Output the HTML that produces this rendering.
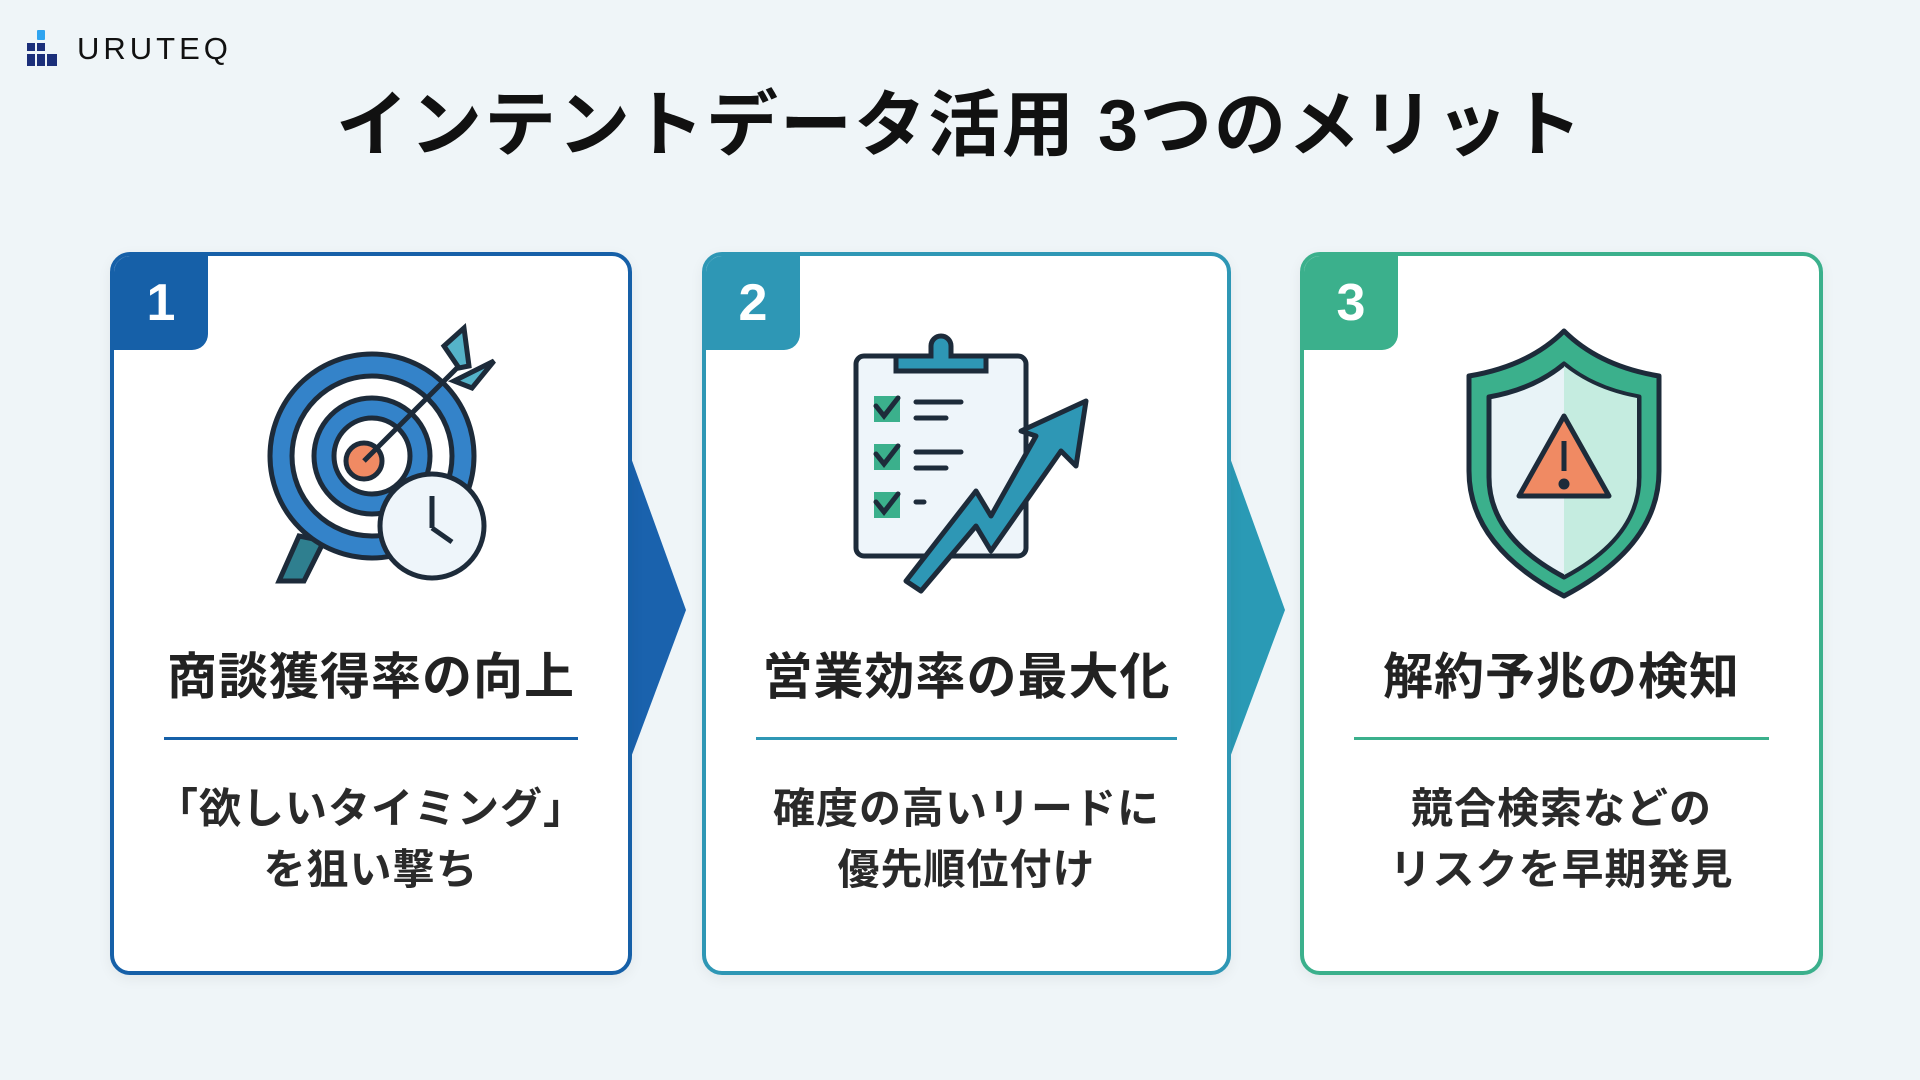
<!DOCTYPE html>
<html><head><meta charset="utf-8"><style>
body{margin:0;width:1920px;height:1080px;background:#eff5f8;position:relative;overflow:hidden;font-family:"Liberation Sans","Noto Sans CJK JP",sans-serif;}
.abs{position:absolute}
.card{position:absolute;top:252px;height:723px;background:#fff;border:4px solid;border-radius:20px;box-sizing:border-box;box-shadow:0 4px 14px rgba(0,0,0,.06);overflow:hidden}
.badge{position:absolute;left:0;top:0;width:94px;height:94px;border-bottom-right-radius:16px;color:#fff;font-size:52px;font-weight:bold;text-align:center;line-height:94px}
.h{position:absolute;left:0;right:0;top:381px;text-align:center;font-size:50px;font-weight:bold;color:#222;letter-spacing:1px}
.line{position:absolute;left:50px;right:50px;top:481px;height:3px}
.b{position:absolute;left:0;right:0;top:522px;text-align:center;font-size:42px;font-weight:bold;color:#2a2a2a;line-height:61px;letter-spacing:1px}
svg.ic{position:absolute;left:0;top:0}
</style></head><body>
<div class="abs" style="left:37px;top:30px;width:8px;height:10px;background:#2fa4f0;border-radius:1px"></div>
<div class="abs" style="left:27px;top:43px;width:8px;height:8px;background:#1b2f7a"></div>
<div class="abs" style="left:37px;top:43px;width:8px;height:8px;background:#1b2f7a"></div>
<div class="abs" style="left:27px;top:54px;width:8px;height:12px;background:#1b2f7a"></div>
<div class="abs" style="left:37px;top:54px;width:8px;height:12px;background:#1b2f7a"></div>
<div class="abs" style="left:47px;top:54px;width:10px;height:12px;background:#1b2f7a"></div>
<div class="abs" style="left:77px;top:31px;font-size:31px;letter-spacing:4px;color:#111">URUTEQ</div>
<div class="abs" style="left:0;right:0;top:66px;text-align:center;font-size:72px;font-weight:bold;color:#111;letter-spacing:2px">インテントデータ活用 3つのメリット</div>

<svg class="abs" style="left:630px;top:455px" width="60" height="310"><polygon points="0,0 56,155 0,305" fill="#1a62ad"/></svg>
<svg class="abs" style="left:1229px;top:455px" width="60" height="310"><polygon points="0,0 56,155 0,305" fill="#2a9ab5"/></svg>

<div class="card" style="left:110px;width:522px;border-color:#1660a8">
<div class="badge" style="background:#1660a8">1</div>
<svg class="ic" width="522" height="380">
<g stroke="#1d2b3a" stroke-width="5">
<polygon points="185,280 165,325 190,325 210,285" fill="#2f7f8f"/>
<circle cx="258" cy="200" r="102" fill="#3483c9"/>
<circle cx="258" cy="200" r="80" fill="#fff"/>
<circle cx="258" cy="200" r="58" fill="#3483c9"/>
<circle cx="258" cy="200" r="38" fill="#fff"/>
<circle cx="250" cy="205" r="18" fill="#f08a63"/>
<line x1="250" y1="205" x2="345" y2="110"/>
<polygon points="330,90 350,72 355,110 345,112" fill="#55b3c9"/>
<polygon points="340,125 370,110 380,105 358,132" fill="#55b3c9"/>
<circle cx="318" cy="270" r="52" fill="#eef5fa"/>
<line x1="318" y1="240" x2="318" y2="272"/><line x1="318" y1="272" x2="338" y2="286"/>
</g></svg>
<div class="h">商談獲得率の向上</div>
<div class="line" style="background:#1660a8"></div>
<div class="b">「欲しいタイミング」<br>を狙い撃ち</div>
</div>

<div class="card" style="left:702px;width:529px;border-color:#2e97b5">
<div class="badge" style="background:#2e97b5">2</div>
<svg class="ic" width="529" height="380">
<g stroke="#1d2b3a" stroke-width="5" stroke-linecap="round">
<rect x="150" y="100" width="170" height="200" rx="8" fill="#eef5fa"/>
<path d="M190,115 v-15 h35 v-10 a10,10 0 0 1 20,0 v10 h35 v15 z" fill="#2e97b5"/>
<rect x="168" y="140" width="26" height="26" fill="#3bb08c" stroke="none"/>
<rect x="168" y="188" width="26" height="26" fill="#3bb08c" stroke="none"/>
<rect x="168" y="236" width="26" height="26" fill="#3bb08c" stroke="none"/>
<path d="M170,150 l8,10 l14,-18 M170,198 l8,10 l14,-18 M170,246 l8,10 l14,-18" fill="none"/>
<path d="M210,146 h45 M210,162 h30 M210,196 h45 M210,212 h30 M210,246 h8"/>
<polygon points="200,325 270,235 285,260 330,180 315,175 380,145 370,210 355,195 285,295 270,270 215,335" fill="#2e97b5" stroke-linejoin="round"/>
</g></svg>
<div class="h">営業効率の最大化</div>
<div class="line" style="background:#2e97b5"></div>
<div class="b">確度の高いリードに<br>優先順位付け</div>
</div>

<div class="card" style="left:1300px;width:523px;border-color:#3bb08c">
<div class="badge" style="background:#3bb08c">3</div>
<svg class="ic" width="523" height="380">
<g stroke="#1d2b3a" stroke-width="5" stroke-linejoin="round">
<path d="M260,75 q35,35 95,45 v95 q0,75 -95,125 q-95,-50 -95,-125 v-95 q60,-10 95,-45z" fill="#3bb08c"/>
<path d="M260,108 q30,25 75,33 v80 q0,60 -75,100 q-75,-40 -75,-100 v-80 q45,-8 75,-33z" fill="#e8f3f7"/>
<path d="M260,110 q30,24 73,32 v80 q0,58 -73,97z" fill="#c5ece0" stroke="none"/>
<polygon points="260,160 305,240 215,240" fill="#f08a63"/>
<line x1="260" y1="185" x2="260" y2="215"/><circle cx="260" cy="228" r="3" fill="#1d2b3a"/>
</g></svg>
<div class="h">解約予兆の検知</div>
<div class="line" style="background:#3bb08c"></div>
<div class="b">競合検索などの<br>リスクを早期発見</div>
</div>
</body></html>
